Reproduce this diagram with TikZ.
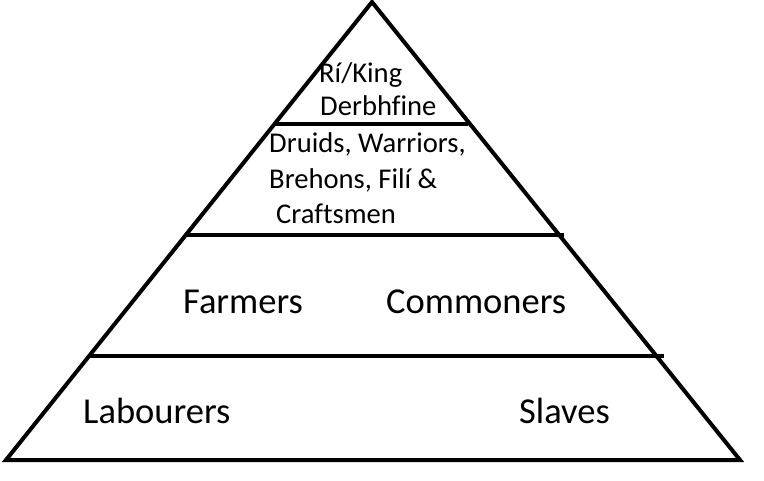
\documentclass[tikz,border=0pt]{standalone}
\usepackage{fontspec}
\setmainfont[Ligatures=NoCommon]{Carlito}
\begin{document}
\begin{tikzpicture}[x=1pt,y=-1pt,
  edge/.style={line width=4pt,line join=miter,line cap=butt},
  big/.style={anchor=base west,inner sep=0pt,font=\fontsize{36.5}{40}\selectfont},
  small/.style={anchor=base west,inner sep=0pt,font=\fontsize{28.6}{33}\selectfont}]
\useasboundingbox (0,0) rectangle (764,480);
\coordinate (apex) at (372,2);
\coordinate (bl) at (6,460);
\coordinate (br) at (740,460);
\draw[edge] (bl) -- (apex) -- (br) -- cycle;
\draw[edge] (273,124) -- (468,124);
\draw[edge] (186,235) -- (564,235);
\draw[edge] (89,356) -- (664,356);
\node[small] (king) at (319,82) {Rí/King};
\node[small] (derb) at (320,115) {Derbhfine};
\node[small] (druids) at (269,152) {Druids, Warriors,};
\node[small] (brehons) at (269,188) {Brehons, Filí \&};
\node[small] (crafts) at (276,223) {Craftsmen};
\node[big] (farmers) at (183,313) {Farmers};
\node[big] (commoners) at (386,313) {Commoners};
\node[big] (labourers) at (83,423) {Labourers};
\node[big] (slaves) at (519,423) {Slaves};
\end{tikzpicture}
\end{document}
